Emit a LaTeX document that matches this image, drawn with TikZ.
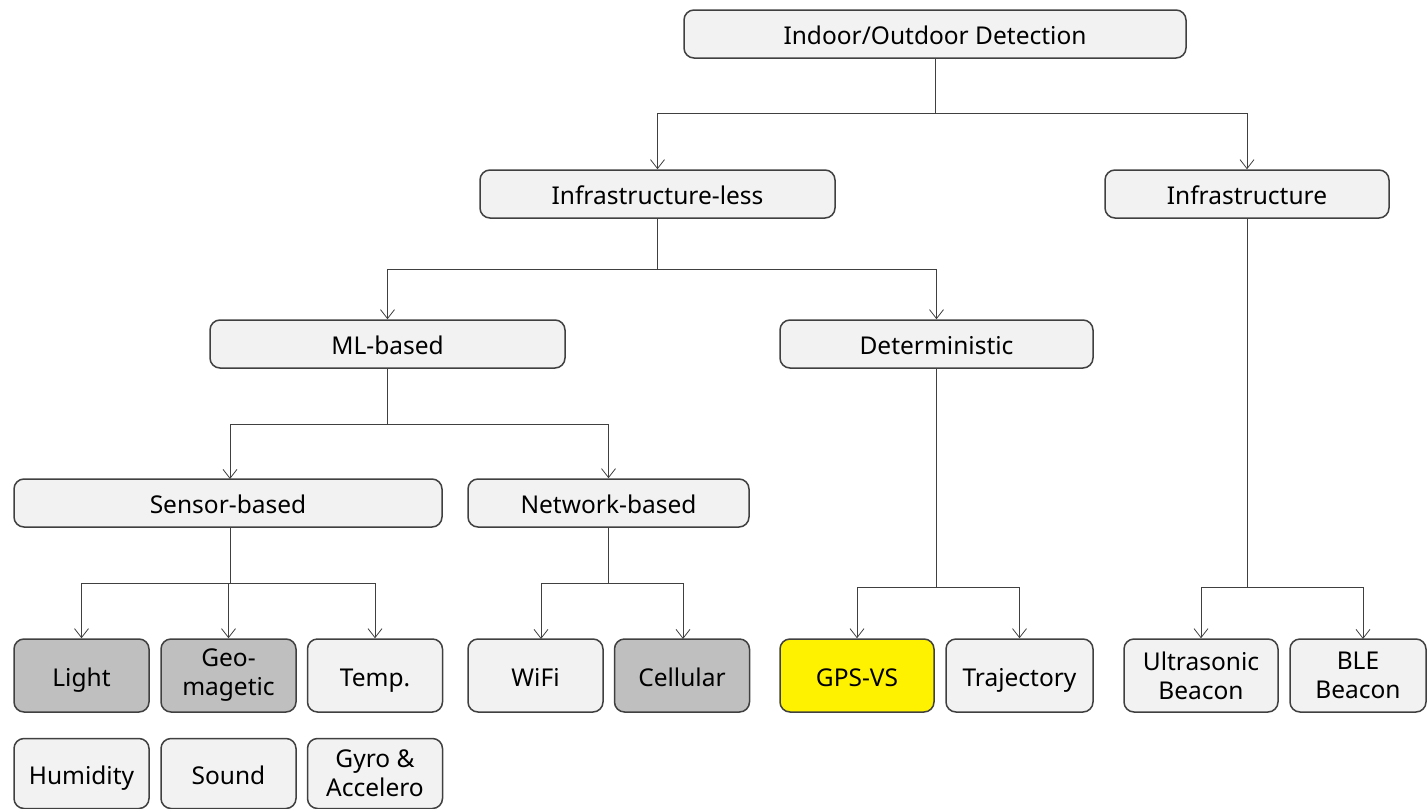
\documentclass[tikz,border=0pt]{standalone}
\usepackage{fontspec}
\setmainfont{Noto Sans}
\usetikzlibrary{arrows.meta}
\definecolor{boxfill}{HTML}{F2F2F2}
\definecolor{grayfill}{HTML}{BFBFBF}
\definecolor{edgecol}{HTML}{404040}
\tikzset{
  box/.style={draw=edgecol, line width=1.5pt, rounded corners=10pt, fill=boxfill,
    inner sep=0pt, align=center, font=\fontsize{24.5}{29}\selectfont},
  one/.style={text height=21pt, text depth=0pt},
  wide/.style={box, one, minimum height=48pt},
  leaf/.style={box, minimum height=73pt, minimum width=135pt},
  graybox/.style={fill=grayfill},
  yellowbox/.style={fill=yellow},
  conn/.style={draw=edgecol, line width=1pt, -{Straight Barb[length=9pt,width=14pt,line width=0.8pt]}},
}
\begin{document}
\begin{tikzpicture}[x=1pt,y=-1pt]
\useasboundingbox (0,0) rectangle (1428,809);
% level 0
\node[wide, minimum width=502pt] (root) at (935,34) {Indoor/Outdoor Detection};
% level 1
\node[wide, minimum width=355pt] (il) at (657.5,194) {Infrastructure-less};
\node[wide, minimum width=284pt] (inf) at (1247,194) {Infrastructure};
% level 2
\node[wide, minimum width=355pt] (ml) at (387.5,344) {ML-based};
\node[wide, minimum width=313pt] (det) at (936.5,344) {Deterministic};
% level 3
\node[wide, minimum width=428pt] (sen) at (228,503) {Sensor-based};
\node[wide, minimum width=281pt] (net) at (608.5,503) {Network-based};
% leaves
\node[leaf, one, graybox] (light) at (81.5,675.5) {Light};
\node[leaf, graybox] (geo) at (228.5,675.5) {Geo-\\magetic};
\node[leaf, one] (temp) at (375,675.5) {Temp.};
\node[leaf, one] (wifi) at (535.5,675.5) {WiFi};
\node[leaf, one, graybox] (cell) at (682,675.5) {Cellular};
\node[leaf, one, yellowbox, minimum width=154pt] (gps) at (857,675.5) {GPS-VS};
\node[leaf, one, minimum width=147pt] (traj) at (1019.5,675.5) {Trajectory};
\node[leaf, minimum width=154pt] (ultra) at (1201,675.5) {Ultrasonic\\Beacon};
\node[leaf, minimum width=136pt] (ble) at (1358,675.5) {BLE\\Beacon};
\node[leaf, one, minimum height=70pt] (hum) at (81.5,773.5) {Humidity};
\node[leaf, one, minimum height=70pt] (sound) at (228.5,773.5) {Sound};
\node[leaf, minimum height=70pt] (gyro) at (375,773.5) {Gyro \&\\Accelero};
% connectors
\coordinate (b0) at (935,113);
\draw[conn] (root.south) -- (b0) -| (il.north);
\draw[conn] (b0) -| (inf.north);
\coordinate (b1) at (657.5,269);
\draw[conn] (il.south) -- (b1) -| (ml.north);
\draw[conn] (b1) -| (det.north);
\coordinate (b2) at (387.5,424);
\draw[conn] (ml.south) -- (b2) -| (230,479);
\draw[conn] (b2) -| (net.north);
\coordinate (b3) at (230,583);
\draw[conn] (230,527) -- (b3) -| (light.north);
\draw[conn] (b3) -| (geo.north);
\draw[conn] (b3) -| (temp.north);
\coordinate (b4) at (608.5,583);
\draw[conn] (net.south) -- (b4) -| (541,639);
\draw[conn] (b4) -| (683,639);
\coordinate (b5) at (936.5,587);
\draw[conn] (det.south) -- (b5) -| (gps.north);
\draw[conn] (b5) -| (traj.north);
\coordinate (b6) at (1247,587);
\draw[conn] (inf.south) -- (b6) -| (ultra.north);
\draw[conn] (b6) -| (1363,639);
\end{tikzpicture}
\end{document}
